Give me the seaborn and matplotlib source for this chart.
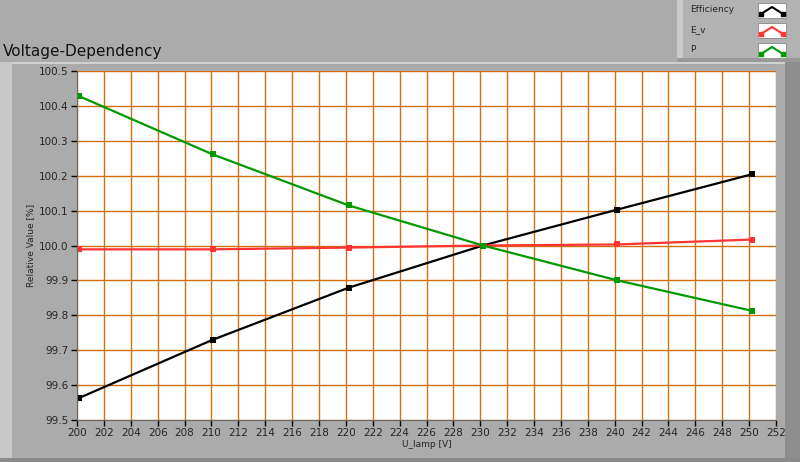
import pandas as pd
import matplotlib.pyplot as plt
import seaborn as sns

# voltage sweep values
u_lamp = [200.15, 210.1, 220.2, 230.2, 240.2, 250.2]
efficiency = [99.563, 99.730, 99.879, 100.0, 100.103, 100.204]
e_v = [99.989, 99.989, 99.994, 100.0, 100.003, 100.017]
p = [100.428, 100.261, 100.115, 100.0, 99.900, 99.813]

series_names = ['Efficiency', 'E_v', 'P']
colors = ['black', '#ff3333', '#009900']
x_ticks = list(range(200, 253, 2))
y_ticks = [99.5, 99.6, 99.7, 99.8, 99.9, 100.0, 100.1, 100.2, 100.3, 100.4, 100.5]

df = pd.DataFrame({
    'U_lamp [V]': u_lamp * 3,
    'Relative Value [%]': efficiency + e_v + p,
    'series': [n for n in series_names for _ in u_lamp],
})

sns.set_style('white')
plt.rcParams['font.family'] = ['DejaVu Sans']

W, H = 800, 462
fig = plt.figure(figsize=(8, 4.62), dpi=100)
fig.patch.set_facecolor('#ababab')


def px_rect(x0, y0, x1, y1, color):
    # rectangle in pixel coords (top-left origin) for the panel frame
    fig.patches.append(plt.Rectangle((x0 / W, 1 - y1 / H), (x1 - x0) / W, (y1 - y0) / H,
                                     transform=fig.transFigure, facecolor=color,
                                     edgecolor='none', zorder=-5))


# panel frame pieces
px_rect(0, 62, 800, 64, '#d0d0d0')
px_rect(0, 62, 12, 458, '#c8c8c8')
px_rect(785, 62, 800, 462, '#8e8e8e')
px_rect(0, 458, 800, 462, '#8a8a8a')
px_rect(677, 0, 800, 62, '#b2b2b2')
px_rect(677, 0, 683, 62, '#cacaca')
px_rect(677, 58, 800, 62, '#9a9a9a')

ax = fig.add_axes([77 / W, 1 - 420 / H, 699 / W, 349 / H])
ax.set_facecolor('white')

sns.lineplot(data=df, x='U_lamp [V]', y='Relative Value [%]', hue='series',
             palette=dict(zip(series_names, colors)), marker='s', markersize=4,
             markeredgewidth=0, linewidth=1.6, ax=ax, legend=False)

ax.set_xlim(200, 252)
ax.set_ylim(99.5, 100.5)
ax.set_xticks(x_ticks)
ax.set_yticks(y_ticks)
ax.set_xticklabels([str(t) for t in x_ticks], fontsize=7.5)
ax.set_yticklabels([f'{t:.1f}' for t in y_ticks], fontsize=7.5)
ax.grid(True, color='#d07010', linewidth=1.0)
ax.set_axisbelow(True)
ax.tick_params(axis='both', length=4, width=1, color='black', direction='out',
               bottom=True, left=True, pad=2)
for side in ['top', 'right']:
    ax.spines[side].set_visible(False)
for side in ['left', 'bottom']:
    ax.spines[side].set_color('#666666')
ax.set_xlabel('U_lamp [V]', fontsize=6.5, labelpad=1)
ax.set_ylabel('Relative Value [%]', fontsize=6.5, labelpad=3)

fig.text(0.004, 0.878, 'Voltage-Dependency', fontsize=11, color='#111111')

# legend panel in top right corner
leg_ax = fig.add_axes([683 / W, 1 - 58 / H, 117 / W, 58 / H])
leg_ax.set_facecolor('#b2b2b2')
leg_ax.set_xlim(0, 117)
leg_ax.set_ylim(58, 0)
leg_ax.set_xticks([])
leg_ax.set_yticks([])
for s in leg_ax.spines.values():
    s.set_visible(False)
for i, (name, c) in enumerate(zip(series_names, colors)):
    yy = 10 + 20 * i
    leg_ax.text(7, yy, name, fontsize=6.5, va='center')
    leg_ax.add_patch(plt.Rectangle((75, yy - 7), 28, 15, facecolor='white',
                                   edgecolor='#888888', linewidth=0.6))
    leg_ax.plot([78, 89, 100], [yy + 4, yy - 3, yy + 4], color=c,
                linewidth=1.5, marker='s', markersize=2.2, markevery=[0, 2])

fig.savefig('out.png', dpi=100, facecolor=fig.get_facecolor())
